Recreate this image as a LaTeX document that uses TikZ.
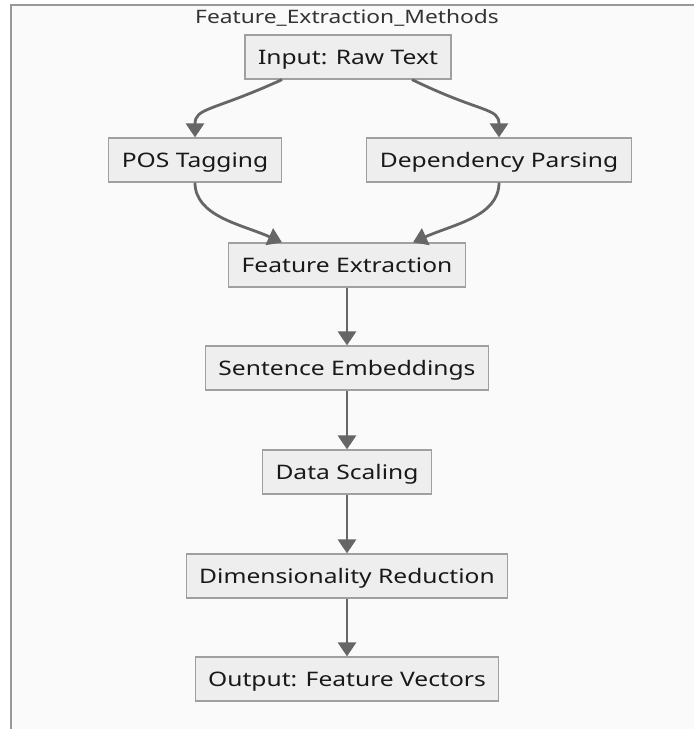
\documentclass[tikz,border=0pt]{standalone}
\usepackage{fontspec}
\setmainfont[FakeStretch=1.23]{Noto Sans}
\usetikzlibrary{arrows.meta}
\definecolor{clusterbg}{HTML}{FAFAFA}
\definecolor{clusterline}{HTML}{999999}
\definecolor{boxfill}{HTML}{EEEEEE}
\definecolor{boxline}{HTML}{A0A0A0}
\definecolor{edgecol}{HTML}{666666}
\definecolor{titlecol}{HTML}{333333}
\tikzset{
  stepbox/.style={draw=boxline, fill=boxfill, line width=1.2pt, minimum height=44pt,
    inner xsep=13pt, text height=14.5pt, text depth=0pt,
    font=\fontsize{20}{24}\selectfont, text=black!90},
  flow/.style={draw=edgecol, line width=2.8pt,
    -{Triangle[length=14pt,width=18pt]}},
}
\begin{document}
\begin{tikzpicture}[x=1pt,y=-1pt]
  \useasboundingbox (0,0) rectangle (694,729);
  \fill[white] (0,0) rectangle (694,729);
  % subgraph frame, running past the right and lower edges
  \filldraw[fill=clusterbg, draw=clusterline, line width=1.5pt] (11,5) rectangle (720,760);
  \node[font=\fontsize{18.5}{22}\selectfont, text=titlecol] (title) at (347,18) {Feature\_Extraction\_Methods};

  \node[stepbox] (in)   at (348,57)  {Input: Raw Text};
  \node[stepbox] (pos)  at (195,160) {POS Tagging};
  \node[stepbox] (dep)  at (499,160) {Dependency Parsing};
  \node[stepbox] (fe)   at (347,265) {Feature Extraction};
  \node[stepbox] (se)   at (347,368) {Sentence Embeddings};
  \node[stepbox] (ds)   at (347,472) {Data Scaling};
  \node[stepbox] (dr)   at (347,576) {Dimensionality Reduction};
  \node[stepbox] (out)  at (347,679) {Output: Feature Vectors};

  % fan-out from the input
  \draw[flow] ([xshift=-66pt]in.south) .. controls ++(-70,32) and ++(0,-30) .. (pos.north);
  \draw[flow] ([xshift=64pt]in.south) .. controls ++(70,34) and ++(0,-30) .. (dep.north);
  % merge into feature extraction
  \draw[flow] (pos.south) .. controls ++(0,34) and ++(-40,-18) .. ([xshift=-65pt]fe.north);
  \draw[flow] (dep.south) .. controls ++(0,34) and ++(40,-18) .. ([xshift=66pt]fe.north);
  % linear pipeline
  \draw[flow] (fe) -- (se);
  \draw[flow] (se) -- (ds);
  \draw[flow] (ds) -- (dr);
  \draw[flow] (dr) -- (out);
\end{tikzpicture}
\end{document}
